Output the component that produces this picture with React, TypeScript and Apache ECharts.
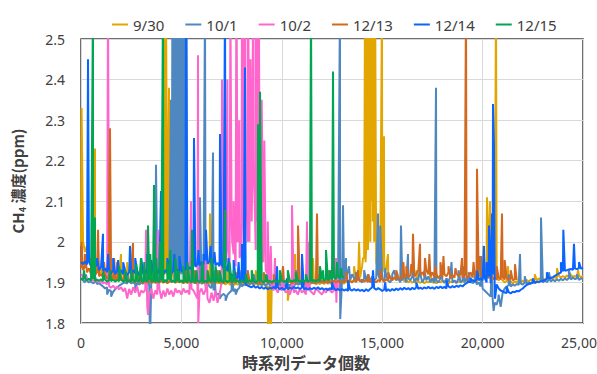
import React, { useEffect, useRef } from "react";
import * as echarts from "echarts";

const seriesNames = ["9/30", "10/1", "10/2", "12/13", "12/14", "12/15"];
const seriesColors = ["#E3A600", "#4F88C0", "#FF66CC", "#D2691E", "#0A64FF", "#00A651"];

const xTicks = { min: 0, max: 25000, interval: 5000 };
const yTicks = { min: 1.8, max: 2.5, interval: 0.1 };

// sample spacing of the baseline readings (data count units)
const STEP = 100;

// 9/30 baseline readings every STEP samples
const base0930 = [
  1.99, 2.0, 1.975, 1.99, 1.965, 1.95, 1.935, 1.94, 1.925, 1.93,
  1.92, 1.926, 1.915, 1.92, 1.912, 1.918, 1.91, 1.915, 1.908, 1.912,
  1.906, 1.91, 1.904, 1.908, 1.902, 1.907, 1.9, 1.905, 1.903, 1.906,
  1.9, 1.904, 1.898, 1.903, 1.9, 1.906, 1.899, 1.904, 1.9, 1.905,
  1.908, 1.912, 1.92, 1.915, 1.925, 1.918, 1.912, 1.906, 1.902, 1.9,
  1.904, 1.899, 1.903, 1.898, 1.902, 1.9, 1.905, 1.898, 1.902, 1.899,
  1.903, 1.898, 1.902, 1.9, 1.896, 1.901, 1.897, 1.902, 1.898, 1.9,
  1.896, 1.9, 1.895, 1.899, 1.894, 1.898, 1.893, 1.897, 1.895, 1.899,
  1.894, 1.898, 1.893, 1.897, 1.895, 1.899, 1.894, 1.897, 1.892, 1.896,
  1.893, 1.896, 1.891, 1.89, 1.888, 1.892, 1.894, 1.89, 1.895, 1.892,
  1.896, 1.89, 1.894, 1.888, 1.893, 1.897, 1.892, 1.896, 1.9, 1.895,
  1.899, 1.895, 1.9, 1.896, 1.901, 1.897, 1.9, 1.895, 1.899, 1.896,
  1.9, 1.896, 1.901, 1.897, 1.899, 1.895, 1.9, 1.896, 1.902, 1.898,
  1.901, 1.897, 1.902, 1.899, 1.904, 1.9, 1.905, 1.902, 1.908, 1.912,
  1.94, 1.96, 1.98, 2.0, 2.05, 2.1, 2.0, 1.95, 1.93, 1.94,
  1.93, 1.925, 1.935, 1.92, 1.915, 1.91, 1.912, 1.906, 1.91, 1.904,
  1.908, 1.902, 1.906, 1.9, 1.904, 1.899, 1.903, 1.898, 1.902, 1.899,
  1.903, 1.898, 1.902, 1.9, 1.905, 1.899, 1.903, 1.898, 1.902, 1.9,
  1.904, 1.899, 1.903, 1.898, 1.902, 1.9, 1.904, 1.899, 1.903, 1.9,
  1.904, 1.9, 1.906, 1.901, 1.905, 1.9, 1.906, 1.902, 1.91, 1.915,
  1.92, 1.925, 1.93, 1.945, 1.92, 1.935, 1.915, 1.912, 1.905, 1.91,
  1.905, 1.9, 1.904, 1.899, 1.903, 1.898, 1.902, 1.9, 1.904, 1.9,
  1.905, 1.9, 1.906, 1.902, 1.907, 1.903, 1.908, 1.904, 1.91, 1.906,
  1.91, 1.906, 1.912, 1.908, 1.913, 1.909, 1.914, 1.91, 1.916, 1.912,
  1.916, 1.912, 1.917, 1.913, 1.918, 1.914, 1.916, 1.912, 1.917, 1.913,
  1.916,
];
const peaks0930: [number, number][] = [
  [30, 2.33], [697, 2.23], [1096, 2.0], [1992, 1.97], [2300, 1.95], [2590, 1.995], [3200, 1.93], [4133, 2.6],
  [4233, 2.6], [4382, 2.38], [4582, 2.07], [5500, 1.93], [6424, 2.07], [7300, 1.94], [8700, 1.93], [9313, 1.75],
  [9360, 1.89], [9450, 1.75], [10300, 1.855], [10657, 1.97], [11554, 1.96], [12800, 1.93], [13600, 1.94],
  [13850, 2.0], [14044, 1.96], [14143, 2.6], [14170, 1.95], [14200, 2.7], [14230, 2.0], [14260, 2.8], [14290, 1.98],
  [14320, 2.9], [14350, 2.1], [14380, 2.8], [14410, 2.0], [14440, 2.7], [14470, 2.2], [14500, 2.9], [14530, 2.05],
  [14560, 2.6], [14600, 2.16], [14641, 2.7], [14990, 2.6], [15089, 2.26], [15289, 1.97], [16036, 1.95],
  [16700, 1.93], [17400, 1.92], [19850, 1.95], [20050, 1.99], [20219, 2.11], [20368, 2.1], [20667, 2.6],
  [21265, 1.94], [22600, 1.92], [23705, 1.935], [24300, 1.925], [24750, 1.93],
];

// 10/1
const base1001 = [
  1.91, 1.905, 1.9, 1.904, 1.9, 1.902, 1.898, 1.9, 1.896, 1.898,
  1.894, 1.89, 1.885, 1.888, 1.882, 1.878, 1.877, 1.883, 1.888, 1.892,
  1.895, 1.898, 1.9, 1.897, 1.902, 1.898, 1.9, 1.896, 1.899, 1.895,
  1.9, 1.896, 1.9, 1.895, 1.89, 1.9, 1.905, 1.91, 1.915, 1.92,
  1.925, 1.92, 1.93, 1.925, 1.935, 1.94, 1.95, 1.93, 1.95, 1.92,
  1.95, 1.93, 1.94, 1.92, 1.91, 1.905, 1.9, 1.898, 1.895, 1.9,
  1.896, 1.9, 1.893, 1.897, 1.89, 1.886, 1.88, 1.875, 1.87, 1.873,
  1.868, 1.872, 1.866, 1.87, 1.875, 1.88, 1.878, 1.884, 1.882, 1.888,
  1.89, 1.894, 1.897, 1.9, 1.896, 1.899, 1.895, 1.9, 1.896, 1.898,
  1.894, 1.898, 1.893, 1.897, 1.892, 1.896, 1.891, 1.895, 1.893, 1.897,
  1.892, 1.896, 1.891, 1.895, 1.893, 1.897, 1.892, 1.896, 1.894, 1.898,
  1.895, 1.899, 1.896, 1.9, 1.897, 1.901, 1.898, 1.902, 1.899, 1.903,
  1.9, 1.904, 1.901, 1.905, 1.9, 1.904, 1.899, 1.903, 1.9, 1.904,
  1.905, 1.9, 1.91, 1.93, 1.905, 1.92, 1.91, 1.9, 1.915, 1.905,
  1.9, 1.91, 1.905, 1.92, 1.9, 1.915, 1.905, 1.91, 1.92, 1.905,
  1.91, 1.9, 1.915, 1.905, 1.9, 1.91, 1.93, 1.905, 1.91, 1.9,
  1.905, 1.92, 1.9, 1.91, 1.905, 1.915, 1.9, 1.91, 1.905, 1.92,
  1.9, 1.91, 1.905, 1.915, 1.9, 1.91, 1.898, 1.905, 1.9, 1.91,
  1.905, 1.9, 1.91, 1.902, 1.915, 1.9, 1.905, 1.898, 1.91, 1.9,
  1.905, 1.9, 1.91, 1.9, 1.905, 1.898, 1.902, 1.895, 1.9, 1.89,
  1.885, 1.88, 1.875, 1.87, 1.865, 1.86, 1.85, 1.845, 1.87, 1.84,
  1.875, 1.885, 1.89, 1.893, 1.89, 1.895, 1.892, 1.896, 1.894, 1.897,
  1.895, 1.899, 1.896, 1.9, 1.897, 1.901, 1.898, 1.902, 1.9, 1.904,
  1.9, 1.905, 1.901, 1.906, 1.902, 1.907, 1.903, 1.908, 1.904, 1.909,
  1.905, 1.91, 1.906, 1.911, 1.907, 1.912, 1.908, 1.91, 1.906, 1.91,
  1.908,
];
const peaks1001: [number, number][] = [
  [250, 1.92], [700, 1.915], [1300, 1.87], [1500, 1.865], [2300, 1.92], [2700, 1.88], [3100, 1.91], [3300, 1.93],
  [3436, 1.75], [3635, 2.056], [3735, 2.19], [3900, 1.97], [4050, 2.0], [4482, 2.35], [4520, 1.92], [4555, 2.7],
  [4590, 1.93], [4625, 2.8], [4660, 1.9], [4695, 2.9], [4730, 1.95], [4765, 2.8], [4810, 1.92], [4835, 3.0],
  [4870, 1.9], [4905, 2.9], [4940, 2.0], [4975, 2.8], [5010, 1.92], [5045, 2.9], [5080, 1.95], [5115, 2.7],
  [5150, 1.92], [5185, 2.8], [5220, 1.9], [5255, 2.6], [5290, 1.91], [5700, 1.93], [5926, 2.11], [6175, 2.6],
  [6574, 2.22], [6650, 1.93], [6900, 1.86], [7200, 1.855], [7500, 1.92], [7700, 1.87], [7900, 1.93], [8200, 1.92],
  [8600, 1.92], [9300, 1.92], [9700, 1.915], [10700, 1.93], [11800, 1.92], [12898, 2.6], [12910, 1.81],
  [13048, 2.09], [13197, 1.96], [13350, 1.94], [13700, 1.925], [14100, 1.93], [14791, 2.07], [14900, 2.04],
  [15150, 1.935], [15500, 1.92], [15936, 2.04], [16285, 1.97], [16500, 1.935], [16882, 1.94], [17100, 1.93],
  [17679, 2.38], [17950, 1.925], [18450, 1.95], [18800, 1.93], [19050, 1.94], [19300, 1.925], [19600, 1.93],
  [19920, 1.965], [20450, 1.95], [20550, 1.83], [20780, 1.86], [21300, 1.92], [21862, 1.97], [22100, 1.915],
  [22908, 2.06], [23300, 1.925], [24300, 1.93], [24700, 1.92],
];

// 10/2
const base1002 = [
  1.92, 1.915, 1.912, 1.91, 1.908, 1.905, 1.906, 1.902, 1.904, 1.9,
  1.902, 1.898, 1.9, 1.895, 1.89, 1.887, 1.892, 1.885, 1.89, 1.883,
  1.888, 1.878, 1.886, 1.86, 1.884, 1.87, 1.888, 1.875, 1.89, 1.865,
  1.88, 1.875, 1.882, 1.84, 1.87, 1.885, 1.86, 1.88, 1.87, 1.885,
  1.86, 1.88, 1.865, 1.885, 1.87, 1.88, 1.865, 1.885, 1.875, 1.88,
  1.87, 1.885, 1.875, 1.88, 1.87, 1.885, 1.88, 1.87, 1.86, 1.875,
  1.885, 1.87, 1.88, 1.86, 1.85, 1.875, 1.855, 1.88, 1.85, 1.87,
  1.9, 1.93, 1.96, 2.0, 1.95, 2.05, 1.97, 1.94, 2.0, 1.96,
  2.05, 1.97, 2.1, 2.0, 2.15, 2.05, 2.2, 1.98, 2.05, 1.99,
  1.95, 2.0, 1.93, 1.92, 1.9, 1.89, 1.88, 1.885, 1.875, 1.89,
  1.88, 1.885, 1.875, 1.88, 1.87, 1.885, 1.875, 1.88, 1.87, 1.885,
  1.875, 1.88, 1.87, 1.885, 1.88, 1.875, 1.87, 1.885, 1.88, 1.875,
  1.87, 1.88, 1.875, 1.885, 1.88, 1.875, 1.88, 1.885, 1.88,
];
const peaks1002: [number, number][] = [
  [1345, 2.6], [3237, 2.03], [3337, 1.82], [3835, 2.03], [5478, 2.1], [5827, 2.46], [5840, 1.8], [6225, 2.01],
  [7022, 2.4], [7120, 1.92], [7180, 2.25], [7240, 1.95], [7290, 2.4], [7380, 1.96], [7440, 2.6], [7530, 2.0],
  [7600, 2.1], [7680, 1.95], [7740, 2.7], [7830, 2.02], [7880, 2.3], [7960, 1.98], [8020, 2.8], [8110, 2.05],
  [8160, 2.6], [8250, 2.1], [8300, 2.9], [8390, 2.0], [8440, 2.45], [8530, 2.15], [8580, 2.8], [8670, 2.05],
  [8720, 2.7], [8800, 2.2], [8860, 2.6], [8940, 2.0], [9000, 2.35], [9080, 1.95], [9130, 2.25], [9220, 1.93],
  [9300, 2.05], [9350, 1.92], [9450, 1.99], [9661, 1.96], [10060, 1.94], [10508, 2.09], [11255, 2.05],
  [11305, 2.0], [12699, 1.96], [12720, 1.85], [12760, 1.93],
];

// 12/13
const base1213 = [
  1.935, 1.93, 1.94, 1.925, 1.935, 1.92, 1.93, 1.918, 1.925, 1.915,
  1.92, 1.912, 1.918, 1.91, 1.915, 1.908, 1.912, 1.906, 1.91, 1.905,
  1.908, 1.903, 1.907, 1.902, 1.906, 1.901, 1.905, 1.9, 1.904, 1.9,
  1.904, 1.899, 1.903, 1.9, 1.905, 1.899, 1.902, 1.898, 1.903, 1.9,
  1.904, 1.899, 1.903, 1.898, 1.902, 1.9, 1.904, 1.899, 1.903, 1.9,
  1.903, 1.898, 1.902, 1.899, 1.904, 1.9, 1.903, 1.898, 1.902, 1.9,
  1.904, 1.899, 1.903, 1.898, 1.902, 1.899, 1.903, 1.9, 1.904, 1.899,
  1.902, 1.898, 1.903, 1.9, 1.904, 1.899, 1.902, 1.898, 1.903, 1.9,
  1.904, 1.899, 1.903, 1.898, 1.902, 1.9, 1.903, 1.899, 1.902, 1.898,
  1.902, 1.899, 1.903, 1.9, 1.904, 1.898, 1.902, 1.899, 1.903, 1.9,
  1.905, 1.9, 1.904, 1.899, 1.903, 1.898, 1.902, 1.9, 1.906, 1.9,
  1.904, 1.899, 1.903, 1.9, 1.905, 1.899, 1.902, 1.898, 1.903, 1.9,
  1.904, 1.899, 1.903, 1.898, 1.902, 1.9, 1.905, 1.9, 1.904, 1.899,
  1.903, 1.9, 1.905, 1.899, 1.904, 1.9, 1.906, 1.902, 1.908, 1.903,
  1.907, 1.902, 1.906, 1.901, 1.905, 1.9, 1.904, 1.9, 1.906, 1.902,
  1.907, 1.903, 1.908, 1.904, 1.91, 1.905, 1.912, 1.907, 1.913, 1.908,
  1.915, 1.91, 1.92, 1.912, 1.918, 1.925, 1.915, 1.922, 1.93, 1.918,
  1.925, 1.915, 1.93, 1.92, 1.915, 1.925, 1.912, 1.92, 1.91, 1.918,
  1.912, 1.92, 1.915, 1.925, 1.91, 1.918, 1.912, 1.922, 1.915, 1.92,
  1.912, 1.918, 1.91, 1.915, 1.925, 1.912, 1.92, 1.915, 1.93, 1.915,
  1.92, 1.912, 1.918, 1.91, 1.915, 1.908, 1.913, 1.906, 1.912, 1.908,
  1.913, 1.907, 1.912, 1.906, 1.91, 1.905, 1.908, 1.905,
];
const peaks1213: [number, number][] = [
  [30, 2.0], [200, 1.97], [500, 1.96], [847, 2.03], [1150, 1.95], [1400, 2.12], [1444, 2.28], [1650, 1.96],
  [1800, 1.95], [2150, 1.94], [2590, 1.997], [2800, 1.93], [3300, 1.94], [3600, 1.94], [4450, 1.93], [4850, 1.94],
  [5200, 1.93], [5650, 1.93], [6300, 1.92], [6800, 1.93], [7700, 1.925], [8300, 1.93], [9100, 1.925],
  [9600, 1.92], [10060, 1.94], [10807, 2.04], [11753, 2.07], [12300, 1.93], [13200, 1.925], [13795, 1.93],
  [14300, 1.92], [14900, 1.93], [15300, 1.925], [15700, 1.93], [16050, 1.95], [16200, 1.94], [16450, 1.945],
  [16534, 2.02], [16882, 1.995], [17131, 1.96], [17350, 1.97], [17650, 1.94], [17900, 1.95], [18050, 1.965],
  [18300, 1.94], [18650, 1.935], [18974, 1.96], [19173, 2.6], [19550, 1.95], [19721, 2.18], [19870, 1.965],
  [20300, 1.95], [20700, 1.94], [20966, 2.07], [21100, 1.955], [21400, 1.93], [21613, 1.945],
];

// 12/14
const base1214 = [
  1.95, 1.945, 1.952, 1.944, 1.95, 1.94, 1.948, 1.938, 1.945, 1.93,
  1.938, 1.928, 1.935, 1.925, 1.932, 1.922, 1.93, 1.92, 1.928, 1.922,
  1.93, 1.92, 1.928, 1.918, 1.925, 1.92, 1.93, 1.922, 1.928, 1.918,
  1.925, 1.92, 1.93, 1.922, 1.928, 1.918, 1.926, 1.92, 1.93, 1.922,
  1.928, 1.92, 1.93, 1.924, 1.932, 1.922, 1.93, 1.925, 1.932, 1.924,
  1.93, 1.925, 1.935, 1.928, 1.938, 1.932, 1.942, 1.938, 1.946, 1.942,
  1.95, 1.945, 1.955, 1.946, 1.952, 1.944, 1.95, 1.942, 1.948, 1.94,
  1.945, 1.935, 1.94, 1.928, 1.925, 1.918, 1.915, 1.91, 1.912, 1.905,
  1.908, 1.9, 1.895, 1.892, 1.89, 1.888, 1.892, 1.887, 1.89, 1.885,
  1.889, 1.884, 1.888, 1.883, 1.887, 1.885, 1.889, 1.884, 1.888, 1.883,
  1.887, 1.882, 1.886, 1.883, 1.888, 1.884, 1.889, 1.885, 1.888, 1.884,
  1.887, 1.883, 1.886, 1.882, 1.886, 1.883, 1.887, 1.884, 1.888, 1.883,
  1.886, 1.882, 1.885, 1.881, 1.886, 1.882, 1.885, 1.881, 1.884, 1.88,
  1.884, 1.88, 1.883, 1.879, 1.883, 1.88, 1.884, 1.88, 1.883, 1.879,
  1.882, 1.878, 1.883, 1.879, 1.884, 1.888, 1.886, 1.882, 1.886, 1.883,
  1.879, 1.882, 1.878, 1.883, 1.879, 1.884, 1.88, 1.885, 1.881, 1.886,
  1.882, 1.887, 1.883, 1.886, 1.882, 1.887, 1.883, 1.888, 1.884, 1.887,
  1.884, 1.888, 1.885, 1.889, 1.885, 1.888, 1.884, 1.889, 1.886, 1.89,
  1.886, 1.889, 1.885, 1.89, 1.887, 1.891, 1.888, 1.892, 1.889, 1.893,
  1.89, 1.895, 1.898, 1.902, 1.9, 1.905, 1.902, 1.908, 1.905, 1.91,
  1.905, 1.912, 1.9, 1.915, 1.898, 1.92, 1.89, 1.895, 1.885, 1.88,
  1.878, 1.875, 1.874, 1.876, 1.873, 1.877, 1.876, 1.879, 1.878, 1.882,
  1.885, 1.89, 1.894, 1.896, 1.898, 1.899, 1.9, 1.901, 1.902, 1.903,
  1.904, 1.906, 1.908, 1.91, 1.911, 1.913, 1.916, 1.919, 1.922, 1.924,
  1.927, 1.929, 1.93, 1.932, 1.933, 1.931, 1.934, 1.933, 1.935, 1.934,
  1.936,
];
const peaks1214: [number, number][] = [
  [349, 2.45], [600, 1.97], [800, 1.96], [1096, 2.02], [1350, 1.97], [1600, 1.96], [1850, 1.955], [2100, 1.95],
  [2440, 1.99], [2700, 1.96], [3000, 1.96], [3300, 1.97], [3500, 1.955], [3984, 2.125], [4300, 1.96],
  [4650, 1.97], [4900, 1.965], [5229, 2.6], [5627, 2.256], [5850, 1.98], [6100, 1.97], [6225, 2.03],
  [6450, 1.99], [6650, 1.975], [6922, 2.266], [7171, 2.6], [7350, 1.96], [7600, 1.955], [7850, 1.95],
  [8018, 1.995], [8167, 2.43], [9761, 1.94], [10250, 1.91], [11006, 1.97], [12500, 1.9], [13300, 1.905],
  [14542, 1.93], [15150, 1.9], [16700, 1.9], [18200, 1.905], [19400, 1.91], [19750, 1.93], [20069, 1.99],
  [20200, 1.95], [20318, 2.04], [20468, 2.07], [20518, 2.34], [20567, 2.24], [20620, 1.86], [21200, 1.89],
  [22500, 1.91], [23200, 1.925], [23900, 1.95], [24020, 2.03], [24551, 1.995], [24800, 1.95],
];

// 12/15
const base1215 = [
  1.91, 1.906, 1.91, 1.905, 1.909, 1.904, 1.908, 1.903, 1.907, 1.904,
  1.908, 1.903, 1.907, 1.902, 1.906, 1.903, 1.907, 1.902, 1.906, 1.903,
  1.907, 1.902, 1.906, 1.901, 1.905, 1.902, 1.906, 1.901, 1.905, 1.902,
  1.906, 1.901, 1.905, 1.902, 1.906, 1.901, 1.905, 1.9, 1.904, 1.901,
  1.905, 1.9, 1.906, 1.902, 1.907, 1.901, 1.905, 1.9, 1.904, 1.901,
  1.905, 1.9, 1.904, 1.901, 1.905, 1.9, 1.904, 1.9, 1.905, 1.901,
  1.905, 1.9, 1.904, 1.9, 1.905, 1.901, 1.904, 1.9, 1.905, 1.901,
  1.904, 1.9, 1.905, 1.901, 1.904, 1.9, 1.905, 1.901, 1.904, 1.9,
  1.905, 1.901, 1.904, 1.9, 1.905, 1.901, 1.904, 1.9, 1.905, 1.901,
  1.904, 1.9, 1.905, 1.901, 1.904, 1.9, 1.905, 1.901, 1.904, 1.9,
  1.905, 1.901, 1.904, 1.9, 1.905, 1.902, 1.906, 1.902, 1.905, 1.901,
  1.905, 1.902, 1.906, 1.901, 1.905, 1.902, 1.906, 1.902, 1.907, 1.903,
  1.907, 1.904, 1.908, 1.905, 1.91, 1.906, 1.912, 1.908, 1.914, 1.91,
  1.915, 1.912,
];
const peaks1215: [number, number][] = [
  [150, 1.93], [598, 2.6], [697, 2.06], [1100, 1.925], [1444, 1.93], [1900, 1.94], [2200, 1.93], [2500, 1.93],
  [2750, 1.945], [2988, 1.96], [3150, 1.95], [3337, 2.04], [3450, 1.97], [3635, 2.14], [3750, 1.96], [3934, 2.0],
  [4084, 2.6], [4300, 1.95], [4450, 1.98], [4700, 1.96], [4850, 1.93], [5100, 1.94], [5300, 1.95], [5528, 2.03],
  [5750, 1.93], [6050, 1.95], [6300, 1.93], [6500, 1.96], [6700, 1.94], [6900, 1.93], [7171, 2.08], [7400, 1.95],
  [7600, 1.93], [8200, 1.92], [8500, 1.93], [8815, 2.29], [8914, 2.37], [9200, 1.92], [9900, 1.93],
  [10300, 1.93], [10700, 1.925], [11200, 1.92], [11454, 2.6], [11900, 1.94], [12050, 1.93], [12201, 1.98],
  [12400, 1.93], [12550, 2.42], [12749, 1.95], [12950, 1.935],
];

const bases = [base0930, base1001, base1002, base1213, base1214, base1215];
const peaks = [peaks0930, peaks1001, peaks1002, peaks1213, peaks1214, peaks1215];

function mergeReadings(base: number[], extra: [number, number][]): [number, number][] {
  const pts: [number, number][] = base.map((v, k) => [k * STEP, v] as [number, number]);
  const all = pts.concat(extra);
  all.sort((a, b) => a[0] - b[0]);
  return all;
}

const LATIN = "'Noto Sans', 'Noto Sans CJK JP', sans-serif";
const CJK = "'Noto Sans CJK JP', 'Noto Sans', sans-serif";

export default function App() {
  const ref = useRef<HTMLDivElement>(null);
  useEffect(() => {
    document.body.style.margin = "0";
    if (!ref.current) return;
    const chart = echarts.init(ref.current, null, { renderer: "svg" });
    chart.setOption({
      animation: false,
      backgroundColor: "#ffffff",
      legend: {
        top: 12,
        left: 107,
        icon: "rect",
        itemWidth: 16,
        itemHeight: 2,
        itemGap: 21,
        textStyle: { fontFamily: LATIN, fontSize: 15, color: "#404040" },
        data: seriesNames,
      },
      grid: {
        left: 81,
        right: 14,
        top: 39,
        bottom: 51,
        show: true,
        borderColor: "#404040",
        borderWidth: 1.5,
        backgroundColor: "transparent",
        outerBoundsMode: "none",
      },
      xAxis: {
        type: "value",
        min: xTicks.min,
        max: xTicks.max,
        interval: xTicks.interval,
        axisLine: { show: false },
        axisTick: { show: false },
        splitLine: { show: true, lineStyle: { color: "#D9D9D9", width: 1 } },
        axisLabel: {
          margin: 12,
          fontFamily: LATIN,
          fontSize: 14,
          color: "#404040",
          showMaxLabel: true,
          formatter: (v: number) => v.toLocaleString("en-US"),
        },
        name: "時系列データ個数",
        nameLocation: "middle",
        nameGap: 26,
        nameTextStyle: {
          fontFamily: CJK,
          fontWeight: "bold",
          fontSize: 16,
          color: "#404040",
          padding: [0, 52, 0, 0],
        },
      },
      yAxis: {
        type: "value",
        min: yTicks.min,
        max: yTicks.max,
        interval: yTicks.interval,
        axisLine: { show: false },
        axisTick: { show: false },
        splitLine: { show: true, lineStyle: { color: "#D9D9D9", width: 1 } },
        axisLabel: {
          margin: 16,
          fontFamily: LATIN,
          fontSize: 14,
          color: "#404040",
          formatter: (v: number) => String(parseFloat(v.toFixed(1))),
        },
        name: "{a|CH}{s|4}{a| 濃度(ppm)}",
        nameLocation: "middle",
        nameRotate: 90,
        nameGap: 54,
        nameTextStyle: {
          color: "#404040",
          rich: {
            a: { fontFamily: CJK, fontWeight: "bold", fontSize: 15, color: "#404040", lineHeight: 20 },
            s: {
              fontFamily: CJK,
              fontWeight: "bold",
              fontSize: 9,
              color: "#404040",
              lineHeight: 20,
              verticalAlign: "bottom",
              padding: [8, 0, 0, 0],
            },
          },
        },
      },
      series: bases.map((b, i) => ({
        name: seriesNames[i],
        type: "line",
        data: mergeReadings(b, peaks[i]),
        showSymbol: false,
        symbol: "none",
        color: seriesColors[i],
        lineStyle: { width: 2, color: seriesColors[i] },
        clip: true,
      })),
    });
    return () => chart.dispose();
  }, []);
  return <div ref={ref} style={{ width: 597, height: 374 }} />;
}
